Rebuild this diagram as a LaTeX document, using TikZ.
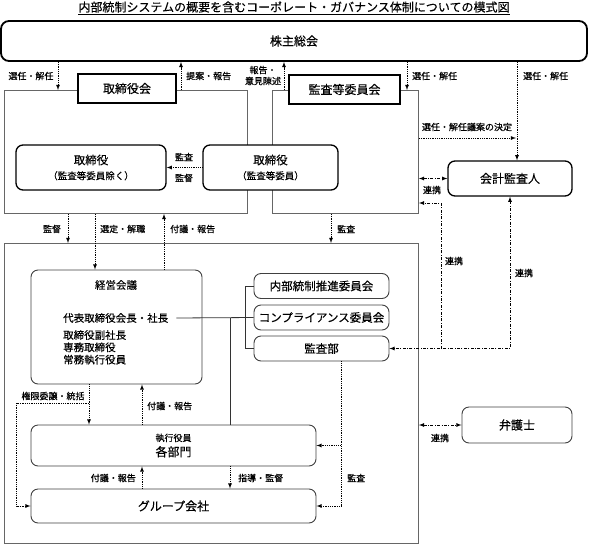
\documentclass[tikz,border=0pt]{standalone}
\usepackage{fontspec}
\setmainfont[FakeBold=0.3]{Noto Sans CJK JP}
\newfontfamily\lblfont[FakeBold=0.6]{Noto Sans CJK JP}
\usepackage{tikz}
\usetikzlibrary{positioning,arrows}
\tikzset{
areabox/.style={
  draw=black!60,
  line width=0.9pt,
  inner sep=0pt,
  anchor=north west
  },
headbox/.style={
  draw,
  fill=white,
  line width=2.4pt,
  inner sep=0pt,
  minimum height=29pt,
  font=\fontsize{12}{14}\selectfont
  },
rbox/.style={
  draw,
  fill=white,
  rounded corners=7pt,
  line width=1.3pt,
  inner sep=0pt,
  align=center,
  font=\fontsize{11.5}{14}\selectfont
  },
gbox/.style={
  draw=black!75,
  fill=white,
  rounded corners=7pt,
  line width=0.9pt,
  inner sep=0pt,
  align=center,
  font=\fontsize{11.5}{14}\selectfont
  },
kw/.style={
  inner sep=0pt,
  font=\fontsize{10.5}{12.3}\selectfont
  },
lbl/.style={
  inner sep=0pt,
  font=\lblfont\fontsize{9}{11}\selectfont
  },
dotarr/.style={
  ->,
  densely dotted,
  line width=0.8pt
  },
linkarr/.style={
  dash pattern=on 3pt off 1.5pt on 0.8pt off 1.5pt,
  line width=0.8pt
  },
wire/.style={
  line width=0.8pt,
  black!80
  }
}

\begin{document}
\begin{tikzpicture}[>=latex, x=1pt, y=-1pt]
\useasboundingbox (0,0) rectangle (589,544);

\node[inner sep=0pt, font=\fontsize{12}{14}\selectfont] (title) at (294,8)
  {\underline{内部統制システムの概要を含むコーポレート・ガバナンス体制についての模式図}};

\node[draw, rounded corners=8pt, line width=1.8pt, minimum width=586pt, minimum height=40pt,
  font=\fontsize{12}{14}\selectfont] (kabu) at (294,41) {株主総会};

\node[areabox, minimum width=243pt, minimum height=123pt] (bd) at (4,90) {};
\node[areabox, minimum width=146pt, minimum height=123pt] (ak) at (272,90) {};
\node[areabox, minimum width=414pt, minimum height=300pt] (op) at (4,243) {};

\node[headbox, minimum width=98pt] (bdhead) at (127,88.5) {取締役会};
\node[headbox, minimum width=111pt] (akhead) at (344.5,89.5) {監査等委員会};

\node[rbox, minimum width=150pt, minimum height=45pt] (tk) at (91,167.5)
  {取締役\\[1pt]{\fontsize{9.5}{11}\selectfont （監査等委員除く）}};
\node[rbox, minimum width=135pt, minimum height=45pt] (tka) at (270.5,167.5)
  {取締役\\[1pt]{\fontsize{9.5}{11}\selectfont （監査等委員）}};
\node[rbox, minimum width=124pt, minimum height=35pt, font=\fontsize{12}{14}\selectfont]
  (kaikei) at (510,178.5) {会計監査人};

\node[gbox, minimum width=171pt, minimum height=114pt] (keiei) at (116.5,327) {};
\node[kw] (keieiname) at (116,285) {経営会議};
\node[kw, anchor=west] (shacho) at (63,318) {代表取締役会長・社長};
\node[kw, anchor=north west, align=left] (yakuin) at (63,330)
  {取締役副社長\\専務取締役\\常務執行役員};

\node[gbox, minimum width=135pt, minimum height=25pt] (naibu) at (321.5,286) {内部統制推進委員会};
\node[gbox, minimum width=135pt, minimum height=25pt] (comp) at (321.5,317.5) {コンプライアンス委員会};
\node[gbox, minimum width=135pt, minimum height=25pt] (kansabu) at (321.5,348.5) {監査部};

\node[gbox, minimum width=285pt, minimum height=41pt, font=\fontsize{12}{14}\selectfont]
  (kakubu) at (173.5,445.5) {{\fontsize{9}{11}\selectfont 執行役員}\\[1pt]各部門};
\node[gbox, minimum width=285pt, minimum height=34pt, font=\fontsize{12}{14}\selectfont]
  (group) at (173.5,506) {グループ会社};
\node[gbox, minimum width=110pt, minimum height=36pt, font=\fontsize{12}{14}\selectfont]
  (bengo) at (517,425) {弁護士};

\draw[wire] ([xshift=8pt]shacho.east) -- (comp.west);
\draw[wire] (naibu.west) -- ++(-8,0) |- (kansabu.west);
\draw[wire] (shacho.east -| 230,0) -- (kakubu.north -| 230,0);

\draw[dotarr] (kabu.south -| 58,0) -- (bd.north -| 58,0);
\node[lbl] (l1) at (31,76) {選任・解任};
\draw[dotarr] (bd.north -| 181,0) -- (kabu.south -| 181,0);
\node[lbl, anchor=west] (l2) at (186,76) {提案・報告};
\draw[dotarr] (ak.north -| 284,0) -- (kabu.south -| 284,0);
\node[lbl, align=center] (l3) at (263,75.5) {報告・\\意見陳述};
\draw[dotarr] (kabu.south -| 407,0) -- (ak.north -| 407,0);
\node[lbl, anchor=west] (l4) at (412,76) {選任・解任};
\draw[dotarr] (kabu.south -| 517,0) -- (kaikei.north -| 517,0);
\node[lbl, anchor=west] (l5) at (523,76) {選任・解任};
\coordinate (sel) at (516,138);
\draw[dotarr] (ak.east |- sel) -- (sel);
\node[lbl] (l6) at (467,127) {選任・解任議案の決定};

\draw[dotarr] (tka.west) -- (tk.east);
\node[lbl] (l7) at (184,157) {監査};
\node[lbl] (l8) at (184,178) {監督};

\draw[linkarr, <->] (ak.east |- kaikei.west) -- (kaikei.west);
\node[lbl] (l9) at (432,190) {連携};
\draw[linkarr, <->] (kaikei.south) |- (kansabu.east);
\draw[linkarr, ->] (kansabu.east -| 441,0) |- (ak.east |- 0,203);
\node[lbl] (l10) at (454,261) {連携};
\node[lbl] (l11) at (524,273) {連携};

\draw[dotarr] (bd.south -| 68,0) -- (op.north -| 68,0);
\node[lbl] (l12) at (52,229) {監督};
\draw[dotarr] (bd.south -| 95,0) -- (keiei.north -| 95,0);
\node[lbl, anchor=west] (l13) at (100,229) {選定・解職};
\draw[dotarr] (keiei.north -| 164,0) -- (bd.south -| 164,0);
\node[lbl, anchor=west] (l14) at (170,229) {付議・報告};
\draw[dotarr] (ak.south -| 331,0) -- (op.north -| 331,0);
\node[lbl, anchor=west] (l15) at (337,229) {監査};

\draw[dotarr] (keiei.south -| 89,0) -- (kakubu.north -| 89,0);
\draw[dotarr] (keiei.south -| 89,0) ++(0,19) -| ([xshift=-14pt]group.west) -- (group.west);
\node[lbl] (l16) at (53,396) {権限委譲・統括};
\draw[dotarr] (kakubu.north -| 142,0) -- (keiei.south -| 142,0);
\node[lbl, anchor=west] (l17) at (147,406) {付議・報告};
\draw[dotarr] (group.north -| 142,0) -- (kakubu.south -| 142,0);
\node[lbl, anchor=east] (l18) at (136,478) {付議・報告};
\draw[dotarr] (kakubu.south -| 230,0) -- (group.north -| 230,0);
\node[lbl, anchor=west] (l19) at (238,478) {指導・監督};
\draw[dotarr] (kansabu.south -| 341,0) |- (kakubu.east);
\draw[dotarr] (kansabu.south -| 341,0) |- (group.east);
\node[lbl, anchor=west] (l20) at (347,478) {監査};

\draw[linkarr, <->] (op.east |- bengo.west) -- (bengo.west);
\node[lbl] (l21) at (440,438) {連携};
\end{tikzpicture}
\end{document}
